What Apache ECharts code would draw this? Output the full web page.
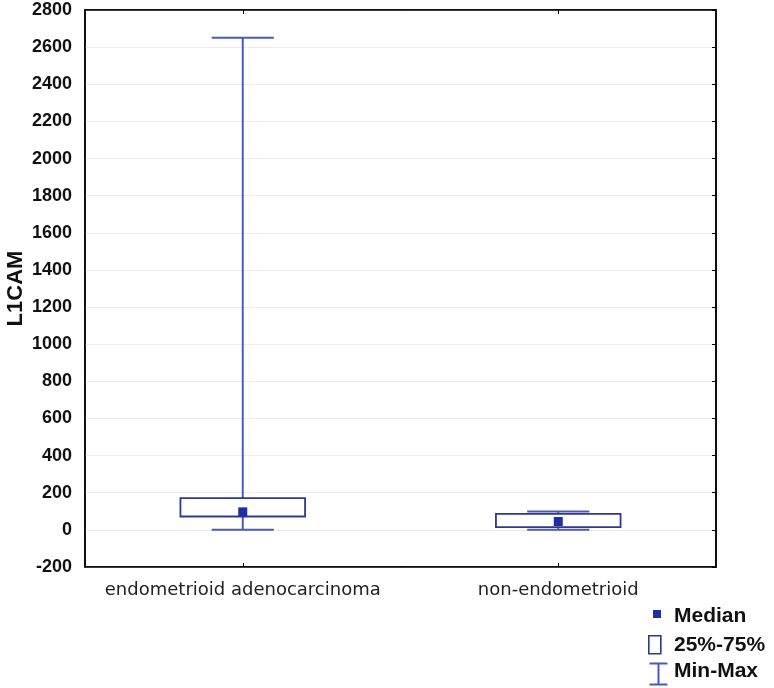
<!DOCTYPE html>
<html>
<head>
<meta charset="utf-8">
<script src="https://cdn.jsdelivr.net/npm/echarts@6/dist/echarts.min.js"></script>
<style>html,body{margin:0;padding:0;background:#fff}#c{width:774px;height:688px}</style>
</head>
<body>
<div id="c"></div>
<script>
const categories = ['endometrioid adenocarcinoma', 'non-endometrioid'];
const minValues = [0, 0];
const q1Values = [72, 15];
const medianValues = [97, 45];
const q3Values = [171, 86];
const maxValues = [2650, 99];
const yTicks = {min: -200, max: 2800, interval: 200};

const boxColor = '#2e3a8c';
const whiskerColor = '#4a58c0';
const medianColor = '#1f2fa3';

const data = categories.map((c, i) => [i, minValues[i], q1Values[i], medianValues[i], q3Values[i], maxValues[i]]);

function renderItem(params, api) {
  const idx = api.value(0);
  const band = api.size([1, 0])[0];
  const boxW = band * 0.395;
  const capW = band * 0.197;
  const pMin = api.coord([idx, api.value(1)]);
  const pQ1 = api.coord([idx, api.value(2)]);
  const pMed = api.coord([idx, api.value(3)]);
  const pQ3 = api.coord([idx, api.value(4)]);
  const pMax = api.coord([idx, api.value(5)]);
  const x = pMed[0];
  const wStyle = {stroke: whiskerColor, lineWidth: 2, fill: null};
  return {
    type: 'group',
    children: [
      {type: 'line', shape: {x1: x, y1: pQ3[1], x2: x, y2: pMax[1]}, style: wStyle},
      {type: 'line', shape: {x1: x, y1: pQ1[1], x2: x, y2: pMin[1]}, style: wStyle},
      {type: 'line', shape: {x1: x - capW / 2, y1: pMax[1], x2: x + capW / 2, y2: pMax[1]}, style: wStyle},
      {type: 'line', shape: {x1: x - capW / 2, y1: pMin[1], x2: x + capW / 2, y2: pMin[1]}, style: wStyle},
      {type: 'rect', shape: {x: x - boxW / 2, y: pQ3[1], width: boxW, height: pQ1[1] - pQ3[1]},
        style: {stroke: boxColor, lineWidth: 1.8, fill: 'rgba(255,255,255,0)'}},
      {type: 'rect', shape: {x: x - 4.5, y: pMed[1] - 4.5, width: 9, height: 9},
        style: {fill: medianColor, stroke: null}}
    ]
  };
}

const chart = echarts.init(document.getElementById('c'), null, {renderer: 'canvas'});
const labelFont = 'DejaVu Sans';
const boldFont = 'Liberation Sans';
const legendFont = 'bold 21px "Liberation Sans"';
chart.setOption({
  animation: false,
  backgroundColor: '#fff',
  grid: {left: 85, right: 58, top: 10, bottom: 121, containLabel: false, outerBoundsMode: 'none',
    show: true, borderColor: '#000', borderWidth: 1.5},
  xAxis: [{
    type: 'category', data: categories, position: 'bottom',
    axisLine: {show: true, onZero: false, lineStyle: {color: '#000', width: 1.5}},
    axisTick: {show: true, inside: true, alignWithLabel: true, length: 4, lineStyle: {color: '#000'}},
    axisLabel: {color: '#222', fontFamily: labelFont, fontSize: 18, margin: 14, interval: 0},
    splitLine: {show: false}
  }, {
    type: 'category', data: categories, position: 'top',
    axisLine: {show: true, onZero: false, lineStyle: {color: '#000', width: 1.5}},
    axisTick: {show: true, inside: true, alignWithLabel: true, length: 4, lineStyle: {color: '#000'}},
    axisLabel: {show: false}, splitLine: {show: false}
  }],
  yAxis: [{
    type: 'value', min: yTicks.min, max: yTicks.max, interval: yTicks.interval,
    name: 'L1CAM', nameLocation: 'middle', nameGap: 58, nameMoveOverlap: false,
    nameTextStyle: {fontFamily: boldFont, fontWeight: 'bold', fontSize: 22, color: '#111'},
    axisLine: {show: true, lineStyle: {color: '#000', width: 1.5}},
    axisTick: {show: false},
    axisLabel: {color: '#111', fontFamily: boldFont, fontWeight: 'bold', fontSize: 18, margin: 13,
      formatter: v => String(v)},
    splitLine: {show: true, lineStyle: {color: '#ececec', width: 1}}
  }, {
    type: 'value', min: yTicks.min, max: yTicks.max, interval: yTicks.interval, position: 'right',
    axisLine: {show: true, lineStyle: {color: '#000', width: 1.5}},
    axisTick: {show: true, inside: true, length: 4, lineStyle: {color: '#000'}},
    axisLabel: {show: false}, splitLine: {show: false}
  }],
  series: [{
    type: 'custom', renderItem: renderItem, xAxisIndex: 0, yAxisIndex: 0,
    encode: {x: 0, y: [1, 2, 3, 4, 5]}, data: data, clip: false
  }],
  graphic: [
    {type: 'rect', left: 653, top: 610, shape: {width: 8, height: 8}, style: {fill: medianColor}},
    {type: 'text', left: 674, top: 606, style: {text: 'Median', font: legendFont, fill: '#111'}},
    {type: 'rect', left: 648, top: 635, shape: {width: 12, height: 18}, style: {fill: '#fff', stroke: boxColor, lineWidth: 1.6}},
    {type: 'text', left: 674, top: 635, style: {text: '25%-75%', font: legendFont, fill: '#111'}},
    {type: 'group', left: 647, top: 661, children: [
      {type: 'line', shape: {x1: 0, y1: 0, x2: 18, y2: 0}, style: {stroke: whiskerColor, lineWidth: 2}},
      {type: 'line', shape: {x1: 9, y1: 0, x2: 9, y2: 21}, style: {stroke: whiskerColor, lineWidth: 2}},
      {type: 'line', shape: {x1: 0, y1: 21, x2: 18, y2: 21}, style: {stroke: whiskerColor, lineWidth: 2}}
    ]},
    {type: 'text', left: 674, top: 661, style: {text: 'Min-Max', font: legendFont, fill: '#111'}}
  ]
});
</script>
</body>
</html>
